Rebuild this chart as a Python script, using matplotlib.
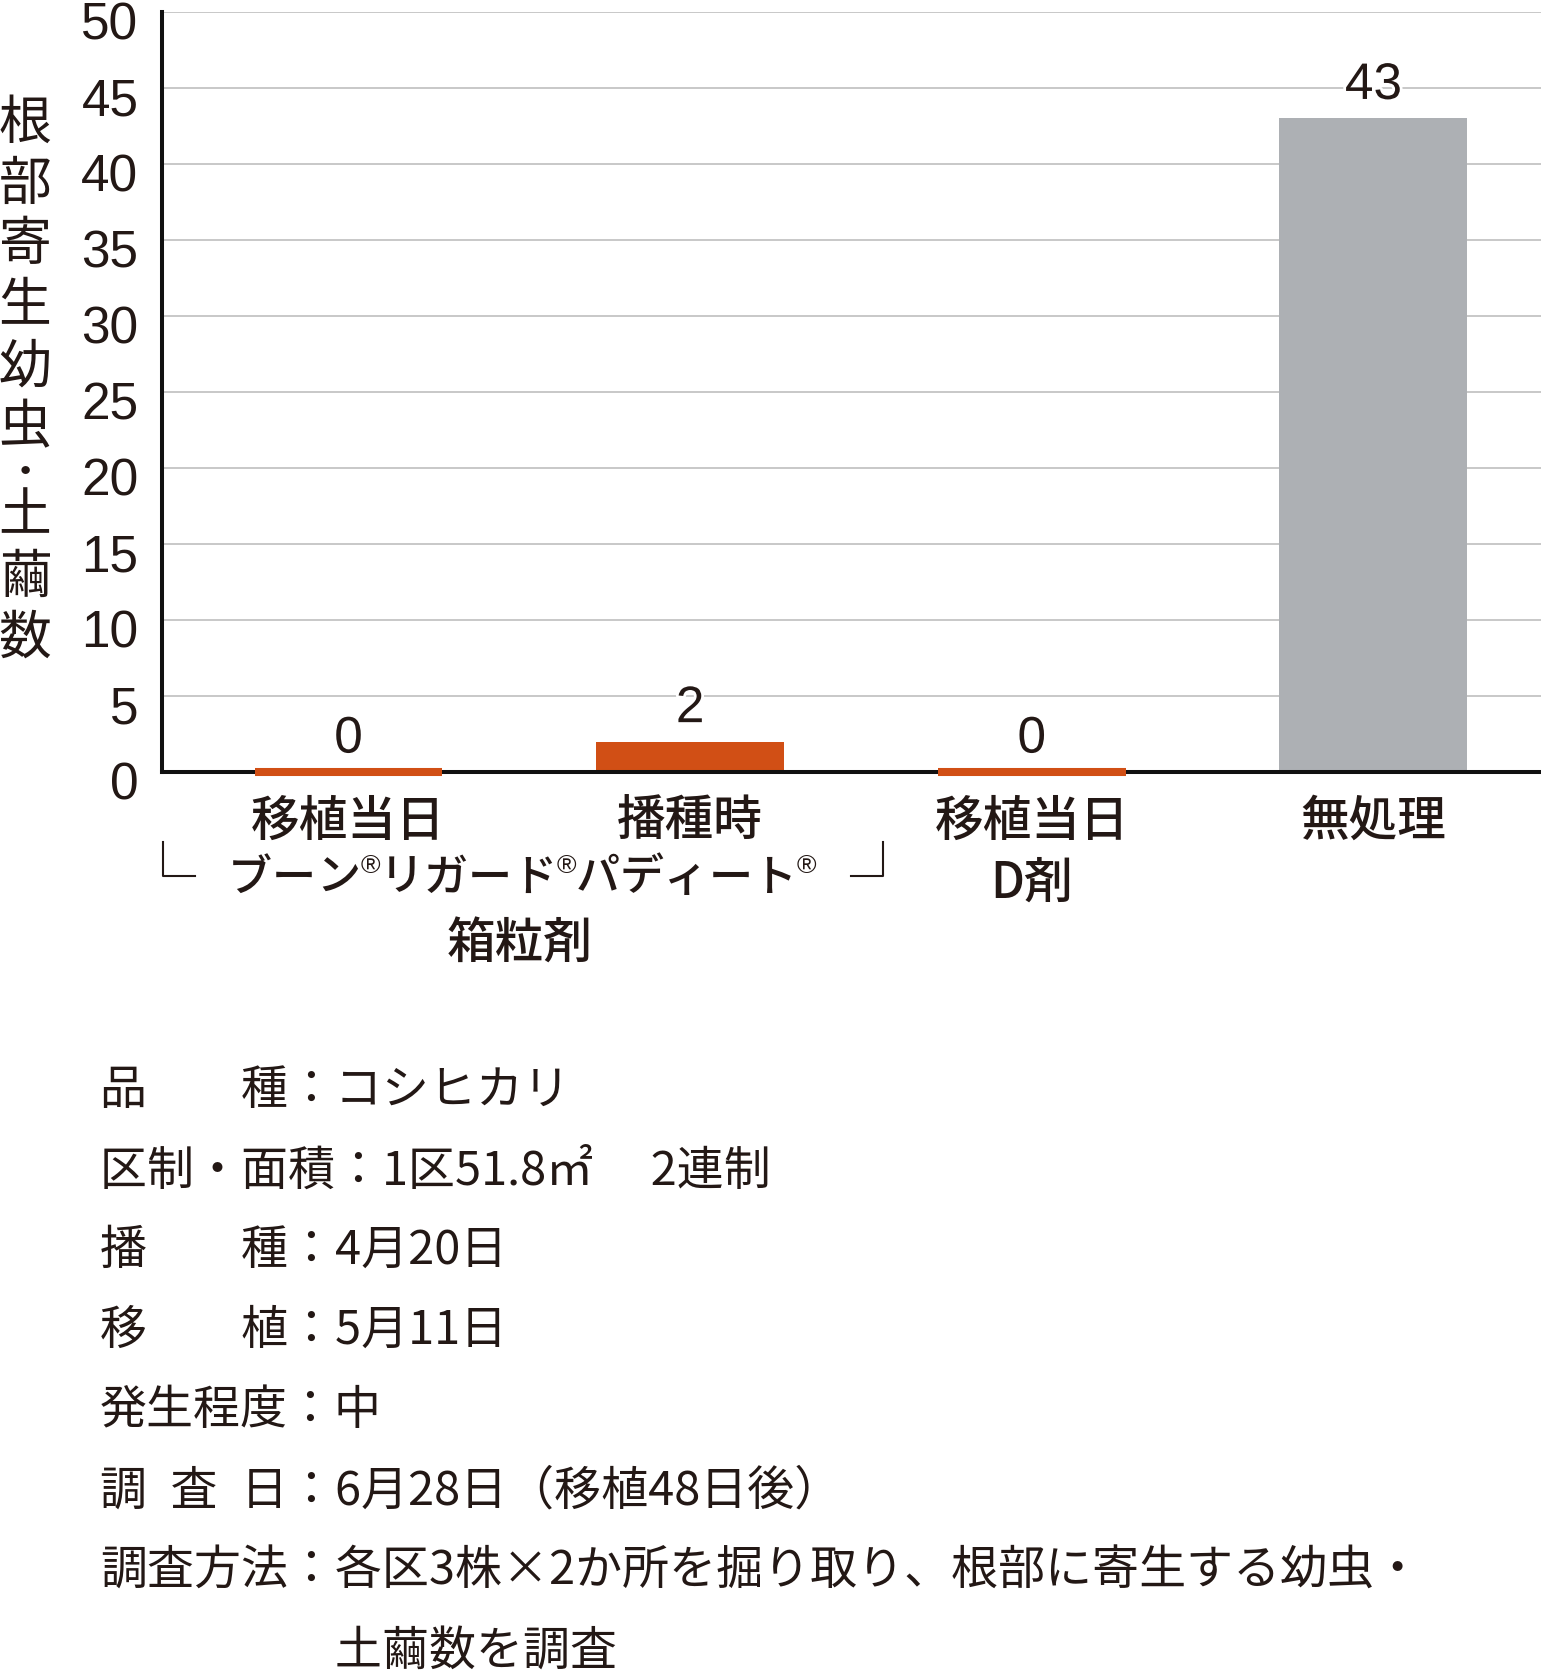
import matplotlib
matplotlib.use('Agg')
import matplotlib.pyplot as plt
import matplotlib.transforms as mtransforms
import matplotlib.patheffects as pe
from matplotlib.lines import Line2D
import numpy as np

plt.rcParams['font.family'] = ['Noto Sans CJK JP', 'DejaVu Sans']

# ---------------- data ----------------
categories = ['移植当日', '播種時', '移植当日\nD剤', '無処理']
values = [0, 2, 0, 43]
bar_colors = ['#d14f15', '#d14f15', '#d14f15', '#adb0b4']
yticks = [0, 5, 10, 15, 20, 25, 30, 35, 40, 45, 50]
ylabel_text = '根部寄生幼虫・土繭数'
bracket_label = 'ブーン®リガード®パディート®'
bracket_sub = '箱粒剤'
notes = [
    '品　　種：コシヒカリ',
    '区制・面積：1区51.8㎡　 2連制',
    '播　　種：4月20日',
    '移　　植：5月11日',
    '発生程度：中',
    '調\u2002査\u2002日：6月28日（移植48日後）',
    '調査方法：各区3株×2か所を掘り取り、根部に寄生する幼虫・',
    '　　　　　土繭数を調査',
]

TXT = '#231815'
W, H = 1541, 1672
fig = plt.figure(figsize=(W / 100, H / 100), dpi=100)


def fx(px):
    return px / W


def fy(py):
    return 1 - py / H


ax = fig.add_axes([fx(162), fy(772), 1 - fx(162), (772 - 12) / H])
x = np.arange(len(values))
bw = 0.55
ax.bar(x, values, width=bw, color=bar_colors, zorder=3)
for xi, v, c in zip(x, values, bar_colors):
    if v == 0:
        ax.hlines(0, xi - bw / 2, xi + bw / 2, colors=c, lw=5.8, zorder=4,
                  clip_on=False)
    ax.annotate(str(v), (xi, v), xytext=(0, 14), textcoords='offset points',
                ha='center', va='baseline', fontsize=37,
                family='Liberation Sans', color=TXT, zorder=5,
                path_effects=[pe.withStroke(linewidth=4, foreground='white')])

ax.set_xlim(-0.546, 3.4906)
ax.set_ylim(0, 50)
ax.set_yticks(yticks)
ax.set_yticklabels([str(t) for t in yticks], family='Liberation Sans',
                   fontsize=37, color=TXT)
ax.set_xticks(x)
ax.set_xticklabels(categories, fontsize=35, fontweight='medium', color=TXT,
                   linespacing=1.3)
ax.tick_params(axis='y', length=0, pad=17)
ax.tick_params(axis='x', length=0, pad=18)
off = mtransforms.ScaledTranslation(0, -8 / 100, fig.dpi_scale_trans)
for lab in ax.get_yticklabels():
    lab.set_transform(lab.get_transform() + off)

for s in ['top', 'right']:
    ax.spines[s].set_visible(False)
for s in ['left', 'bottom']:
    ax.spines[s].set_linewidth(2.9)
    ax.spines[s].set_color('#111111')
    ax.spines[s].set_zorder(3.5)
ax.yaxis.grid(True, color='#c8c8c8', lw=1.4)
ax.set_axisbelow(True)

# vertical y label, one character per line
ycur = 123
prev = None
for ch in ylabel_text:
    if prev is not None:
        ycur += 44 if ('・' in (ch, prev)) else 61
    fs = 24 if ch == '・' else 38
    fig.text(fx(25), fy(ycur), ch, ha='center', va='center', fontsize=fs,
             color=TXT, fontweight='bold' if ch == '・' else 'normal')
    prev = ch

# bracket group label: laid out glyph by glyph (small ®), fitted to width
renderer = fig.canvas.get_renderer()
left_px, right_px, yc_px = 228, 815, 878
target = right_px - left_px
pieces = []
base_sizes = []
for ch in bracket_label:
    if ch == '®':
        t = fig.text(0, 0, ch, ha='left', va='center', fontsize=21,
                     family='Liberation Sans', color=TXT)
        base_sizes.append(21)
    else:
        t = fig.text(0, 0, ch, ha='left', va='center', fontsize=35,
                     fontweight='medium', color=TXT)
        base_sizes.append(35)
    pieces.append(t)
scale = 1.0
for _ in range(4):
    for p, bs in zip(pieces, base_sizes):
        p.set_fontsize(bs * scale)
    natural = sum(p.get_window_extent(renderer).width for p in pieces)
    scale *= target / natural
for p, bs in zip(pieces, base_sizes):
    p.set_fontsize(bs * scale)
widths = [p.get_window_extent(renderer).width for p in pieces]
cur = left_px
for p, w, ch in zip(pieces, widths, bracket_label):
    dy = -12 if ch == '®' else 0
    p.set_position((fx(cur), fy(yc_px + dy)))
    cur += w

fig.text(fx(520), fy(945), bracket_sub, ha='center', va='center',
         fontsize=35, fontweight='medium', color=TXT)
fig.add_artist(Line2D([fx(163), fx(163), fx(195)], [fy(842), fy(876), fy(876)],
                      color=TXT, lw=1.5, transform=fig.transFigure))
fig.add_artist(Line2D([fx(851), fx(883), fx(883)], [fy(876), fy(876), fy(842)],
                      color=TXT, lw=1.5, transform=fig.transFigure))

# notes
for i, line in enumerate(notes):
    fig.text(fx(100), fy(1091 + 80 * i), line, ha='left', va='center',
             fontsize=33.8, color=TXT)

fig.savefig('out.png', dpi=100, facecolor='white')
